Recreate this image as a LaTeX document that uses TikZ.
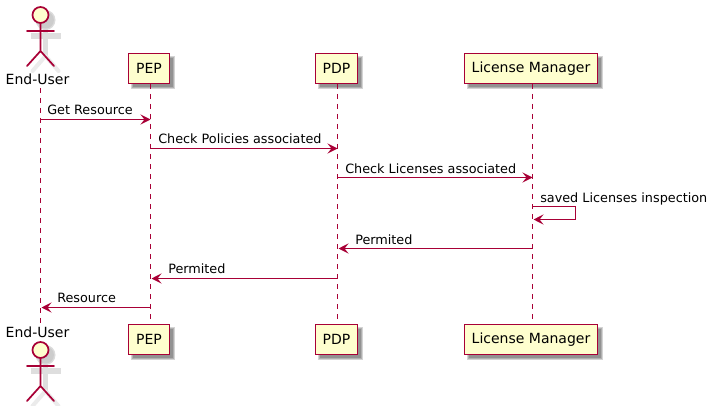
\documentclass[tikz,border=0pt]{standalone}
\usepackage{fontspec}
\setmainfont{DejaVu Sans}
\usetikzlibrary{arrows.meta,calc}
\definecolor{pline}{HTML}{A80036}
\definecolor{pfill}{HTML}{FEFECE}
\tikzset{
  x=0.75pt,y=-0.75pt,
  lifeline/.style={draw=pline,line width=0.8pt,dash pattern=on 3.75pt off 3.75pt},
  msg/.style={draw=pline,line width=0.8pt,-{Stealth[length=7.5pt,width=7.5pt,inset=3pt,fill=pline]}},
  part/.style={draw=pline,fill=pfill,line width=1.3pt,inner sep=0pt,minimum height=22.5pt,font=\fontsize{10.5pt}{12pt}\selectfont,text=black},
  msgtext/.style={anchor=base west,inner sep=0pt,font=\fontsize{9.6pt}{12pt}\selectfont,text=black},
  actortext/.style={inner sep=0pt,font=\fontsize{10.5pt}{12pt}\selectfont,text=black},
  actorline/.style={draw=pline,line width=1.3pt,line cap=round,fill=none},
  boxshadow/.style={fill=black,fill opacity=0.17,draw=none}
}
\newcommand{\boxshadowat}[4]{%
  \foreach \d in {1.5,0.5,-0.5}{
    \fill[boxshadow] ($(#1,#2)+(4-\d,4-\d)$) rectangle ($(#3,#4)+(4+\d,4+\d)$);
  }}
\newcommand{\actorshape}[2]{%
  % #1 = x centre, #2 = head centre y
  \begin{scope}[shift={(#1+5,#2+5)}]
    \draw[draw=black!13,line width=4.2pt] (0,8) -- (0,36) (-15,16) -- (15,16);
    \draw[draw=black!8,line width=3pt,line cap=round] (0,36) -- (-13,51) (0,36) -- (13,51);
    \fill[black!14] (0,0) circle[radius=10];
    \fill[black!20] (0,0) circle[radius=8.5];
  \end{scope}
  \begin{scope}[shift={(#1,#2)}]
    \draw[actorline,fill=pfill] (0,0) circle[radius=8];
    \draw[actorline] (0,8) -- (0,36) (-13.5,16) -- (13.5,16) (0,36) -- (-13.5,51) (0,36) -- (13.5,51);
  \end{scope}}
\begin{document}
\begin{tikzpicture}
\useasboundingbox[fill=white] (0,0) rectangle (713,406);
% shadows of boxes
\boxshadowat{128.5}{53.5}{169.5}{83.5}
\boxshadowat{128.5}{324.5}{169.5}{354.5}
\boxshadowat{315.5}{53.5}{357.5}{83.5}
\boxshadowat{315.5}{324.5}{357.5}{354.5}
\boxshadowat{464.5}{53.5}{597.5}{83.5}
\boxshadowat{464.5}{324.5}{597.5}{354.5}
% participants
\node[actortext] (eutop) at (37.5,79.5) {End-User};
\node[actortext] (eubot) at (37.5,332) {End-User};
\node[part,minimum width=30.75pt] (peptop) at (149,68.5) {PEP};
\node[part,minimum width=30.75pt] (pepbot) at (149,339.5) {PEP};
\node[part,minimum width=31.5pt] (pdptop) at (336.5,68.5) {PDP};
\node[part,minimum width=31.5pt] (pdpbot) at (336.5,339.5) {PDP};
\node[part,minimum width=99.75pt] (lmtop) at (531,68.5) {License Manager};
\node[part,minimum width=99.75pt] (lmbot) at (531,339.5) {License Manager};
\actorshape{40.5}{15}
\actorshape{40.5}{350}
% lifelines
\coordinate (eua) at (40.5,88);
\coordinate (eub) at (40.5,324);
\coordinate (pepa) at (150.5,84);
\coordinate (pepb) at (150.5,324);
\coordinate (pdpa) at (337.5,84);
\coordinate (pdpb) at (337.5,324);
\coordinate (lma) at (532.5,84);
\coordinate (lmb) at (532.5,324);
\draw[lifeline] (eua) -- (eub);
\draw[lifeline] (pepa) -- (pepb);
\draw[lifeline] (pdpa) -- (pdpb);
\draw[lifeline] (lma) -- (lmb);
% messages
\draw[msg] (eua |- 0,119.5) -- (pepa |- 0,119.5);
\node[msgtext] (t1) at (47,114.5) {Get Resource};
\draw[msg] (pepa |- 0,148.5) -- (pdpa |- 0,148.5);
\node[msgtext] (t2) at (158,143) {Check Policies associated};
\draw[msg] (pdpa |- 0,177.5) -- (lma |- 0,177.5);
\node[msgtext] (t3) at (345,173) {Check Licenses associated};
\coordinate (s1) at (575.5,206.5);
\coordinate (s2) at (575.5,219.5);
\draw[msg] (lma |- s1) -- (s1) -- (s2) -- ($(lma |- s2)+(1,0)$);
\node[msgtext] (t4) at (540,202) {saved Licenses inspection};
\draw[msg] (lma |- 0,248.5) -- ($(pdpa |- 0,248.5)+(1,0)$);
\node[msgtext] (t5) at (355,244.5) {Permited};
\draw[msg] (pdpa |- 0,278.5) -- ($(pepa |- 0,278.5)+(1,0)$);
\node[msgtext] (t6) at (168,273) {Permited};
\draw[msg] (pepa |- 0,307.5) -- ($(eua |- 0,307.5)+(1,0)$);
\node[msgtext] (t7) at (57,302) {Resource};
\end{tikzpicture}
\end{document}
